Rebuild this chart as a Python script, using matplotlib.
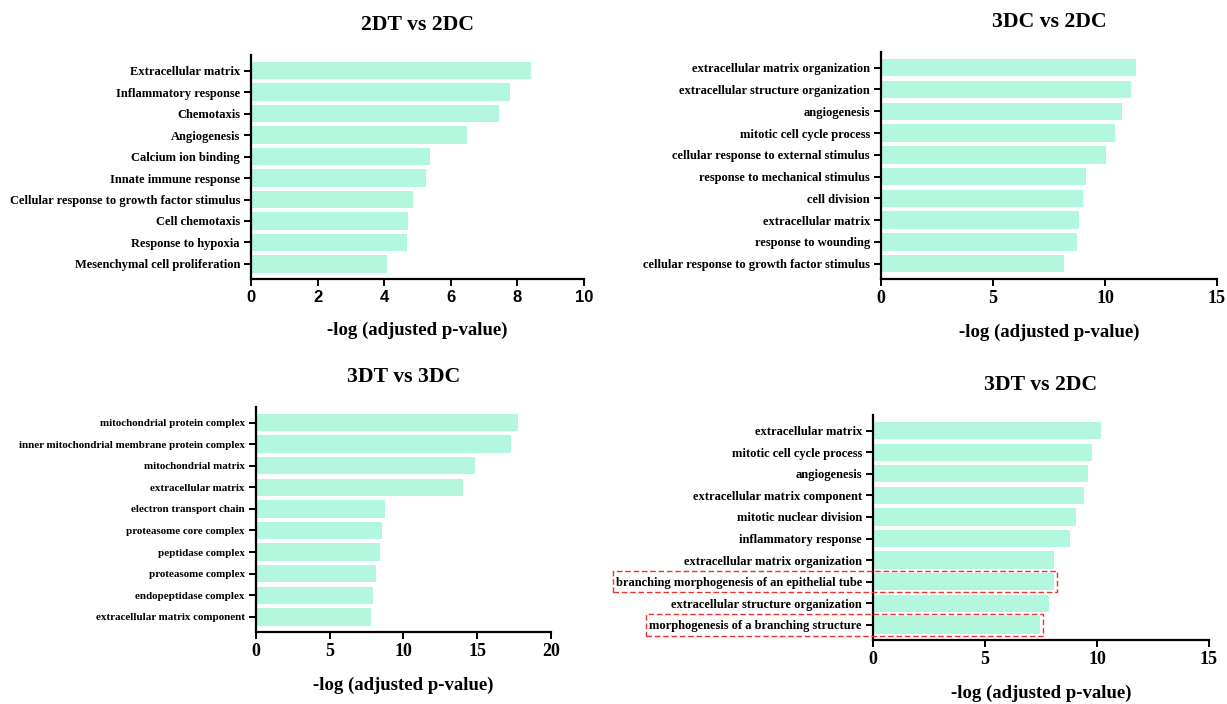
import numpy as np
import matplotlib
matplotlib.use("Agg")
from matplotlib import pyplot as plt
from matplotlib.patches import Rectangle

# Data (top to bottom as shown)
terms_2dt_2dc = ["Extracellular matrix", "Inflammatory response", "Chemotaxis", "Angiogenesis",
                 "Calcium ion binding", "Innate immune response",
                 "Cellular response to growth factor stimulus", "Cell chemotaxis",
                 "Response to hypoxia", "Mesenchymal cell proliferation"]
vals_2dt_2dc = [8.41, 7.78, 7.45, 6.50, 5.38, 5.24, 4.87, 4.70, 4.68, 4.07]

terms_3dc_2dc = ["extracellular matrix organization", "extracellular structure organization",
                 "angiogenesis", "mitotic cell cycle process",
                 "cellular response to external stimulus", "response to mechanical stimulus",
                 "cell division", "extracellular matrix", "response to wounding",
                 "cellular response to growth factor stimulus"]
vals_3dc_2dc = [11.39, 11.17, 10.78, 10.44, 10.05, 9.15, 9.00, 8.86, 8.77, 8.15]

terms_3dt_3dc = ["mitochondrial protein complex", "inner mitochondrial membrane protein complex",
                 "mitochondrial matrix", "extracellular matrix", "electron transport chain",
                 "proteasome core complex", "peptidase complex", "proteasome complex",
                 "endopeptidase complex", "extracellular matrix component"]
vals_3dt_3dc = [17.77, 17.27, 14.88, 14.03, 8.78, 8.55, 8.42, 8.16, 7.92, 7.82]

terms_3dt_2dc = ["extracellular matrix", "mitotic cell cycle process", "angiogenesis",
                 "extracellular matrix component", "mitotic nuclear division",
                 "inflammatory response", "extracellular matrix organization",
                 "branching morphogenesis of an epithelial tube",
                 "extracellular structure organization", "morphogenesis of a branching structure"]
vals_3dt_2dc = [10.20, 9.77, 9.61, 9.43, 9.08, 8.81, 8.06, 8.10, 7.88, 7.45]
highlight_3dt_2dc = ["branching morphogenesis of an epithelial tube",
                     "morphogenesis of a branching structure"]

bar_color = "#b3f7df"
serif = "Liberation Serif"
sans = "Liberation Sans"

fig = plt.figure(figsize=(12.27, 7.04), dpi=100)

# title, terms, values, axes rect, xmax, tick step, x tick font, x tick size, y label size
panels = [
    ("2DT vs 2DC", terms_2dt_2dc, vals_2dt_2dc, [0.2046, 0.6037, 0.2714, 0.318], 10, 2, sans, 12, 9.0),
    ("3DC vs 2DC", terms_3dc_2dc, vals_3dc_2dc, [0.718, 0.6037, 0.2738, 0.3224], 15, 5, serif, 13, 9.0),
    ("3DT vs 3DC", terms_3dt_3dc, vals_3dt_3dc, [0.2086, 0.1023, 0.2404, 0.3196], 20, 5, serif, 13, 7.9),
    ("3DT vs 2DC", terms_3dt_2dc, vals_3dt_2dc, [0.7115, 0.0909, 0.2738, 0.3196], 15, 5, serif, 13, 9.0),
]

axes = []
for title, terms, vals, pos, xmax, step, tickfont, xsize, ysize in panels:
    ax = fig.add_axes(pos)
    y = np.arange(len(terms))
    ax.barh(y, vals, height=0.8, color=bar_color)
    ax.set_ylim(9.7, -0.72)
    ax.set_xlim(0, xmax)
    ax.set_xticks(np.arange(0, xmax + 1, step))
    ax.set_yticks(y)
    ax.set_yticklabels(terms, fontfamily=serif, fontweight="bold", fontsize=ysize)
    for lab in ax.get_xticklabels():
        lab.set_fontfamily(tickfont)
        lab.set_fontweight("bold")
        lab.set_fontsize(xsize)
    for side in ["top", "right"]:
        ax.spines[side].set_visible(False)
    for side in ["left", "bottom"]:
        ax.spines[side].set_linewidth(1.6)
    ax.tick_params(axis="both", direction="out", length=5, width=1.4, pad=3)
    ax.set_xlabel("-log (adjusted p-value)", fontfamily=serif, fontweight="bold",
                  fontsize=13.5, labelpad=12)
    ax.set_title(title, fontfamily=serif, fontweight="bold", fontsize=15.7, pad=18)
    axes.append(ax)

# dashed red boxes around highlighted terms in the last panel
fig.canvas.draw()
renderer = fig.canvas.get_renderer()
ax = axes[3]
bars = ax.patches
inv = fig.transFigure.inverted()
for lab, bar in zip(ax.get_yticklabels(), bars):
    if lab.get_text() in highlight_3dt_2dc:
        lb = lab.get_window_extent(renderer)
        bb = bar.get_window_extent(renderer)
        x0, y0 = inv.transform((lb.x0 - 3, bb.y0 - 2))
        x1, y1 = inv.transform((bb.x1 + 3, bb.y1 + 2))
        fig.add_artist(Rectangle((x0, y0), x1 - x0, y1 - y0, fill=False,
                                 edgecolor="#e8332e", linestyle=(0, (4, 2)),
                                 linewidth=1.0, transform=fig.transFigure))

fig.savefig("out.png", dpi=100)
